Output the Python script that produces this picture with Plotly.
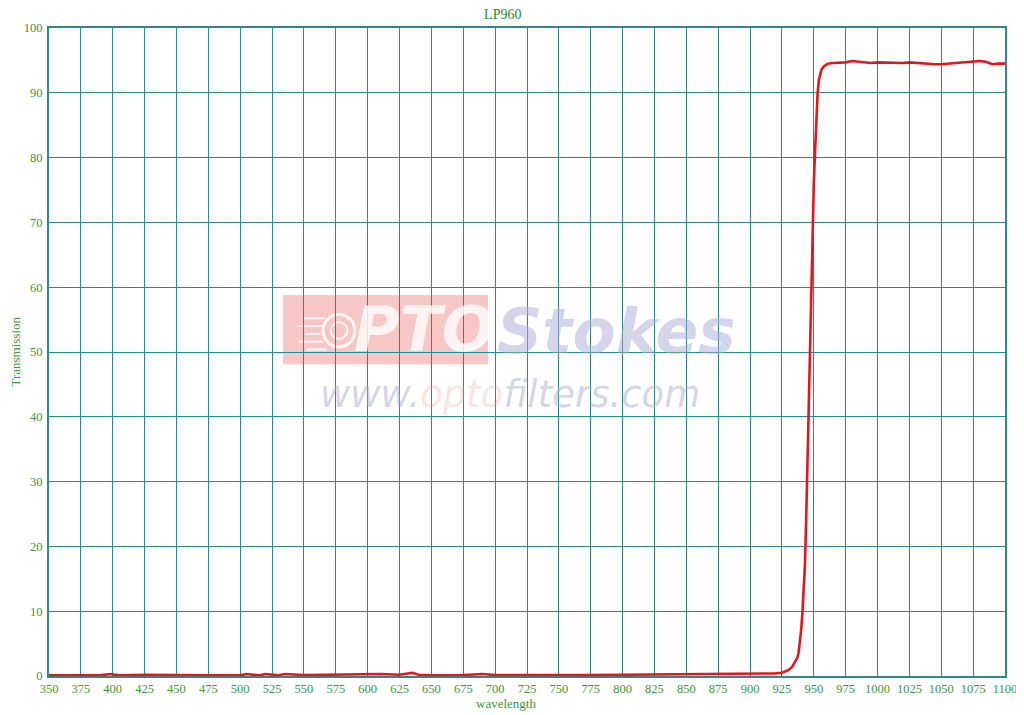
import plotly.graph_objects as go

title_text = "LP960"
x_label = "wavelength"
y_label = "Transmission"

wavelength = [350, 375, 390, 398, 405, 425, 450, 475, 500, 505, 515, 520, 530, 535,
              550, 575, 600, 610, 625, 635, 640, 650, 675, 690, 700, 725, 750, 775,
              800, 825, 850, 875, 900, 915, 920, 925, 930, 933, 935, 937, 938, 939,
              940, 941, 942, 943, 944, 945, 946, 947, 948, 949, 950, 951, 952, 953,
              954, 955, 956, 958, 961, 965, 970, 975, 980, 985, 990, 995, 1000, 1010,
              1020, 1025, 1030, 1040, 1045, 1050, 1055, 1060, 1065, 1070, 1075, 1080,
              1085, 1090, 1095, 1100]
transmission = [0.1, 0.1, 0.1, 0.3, 0.1, 0.2, 0.1, 0.1, 0.1, 0.3, 0.1, 0.3, 0.1, 0.3,
                0.15, 0.2, 0.2, 0.3, 0.2, 0.5, 0.2, 0.1, 0.15, 0.3, 0.15, 0.1, 0.15, 0.15,
                0.2, 0.2, 0.3, 0.3, 0.3, 0.4, 0.4, 0.5, 0.9, 1.4, 2.0, 2.8, 3.5, 5.0,
                7.0, 9.5, 13.0, 17.0, 24.0, 33.0, 43.0, 53.0, 62.0, 70.0, 76.0, 81.0, 86.0, 90.0,
                92.0, 93.0, 93.6, 94.1, 94.5, 94.6, 94.6, 94.7, 94.9, 94.8, 94.7, 94.6, 94.7, 94.6,
                94.6, 94.7, 94.6, 94.5, 94.4, 94.4, 94.5, 94.5, 94.7, 94.8, 94.8, 94.9,
                94.8, 94.4, 94.5, 94.5]

x_ticks = list(range(350, 1101, 25))
y_ticks = list(range(0, 101, 10))

grid_col = "#2A8A8A"
text_col = "#3E963E"
serif = "Liberation Serif, Times New Roman, serif"

fig = go.Figure()
fig.add_trace(go.Scatter(x=wavelength, y=transmission, mode="lines",
                         line=dict(color="#E8141A", width=2.6), hoverinfo="skip",
                         showlegend=False))

# watermark (drawn below grid)
fig.add_shape(type="rect", xref="x", yref="y", x0=533.6, x1=694.4, y0=48.1, y1=58.8,
              fillcolor="rgba(246,168,168,0.65)", line=dict(width=0), layer="below")
fig.add_shape(type="circle", xref="x", yref="y", x0=565.0, x1=590.0, y0=50.8, y1=55.8,
              fillcolor="rgba(0,0,0,0)", line=dict(color="rgba(255,255,255,0.85)", width=3),
              layer="below")
fig.add_shape(type="circle", xref="x", yref="y", x0=571.0, x1=584.0, y0=52.0, y1=54.6,
              fillcolor="rgba(0,0,0,0)", line=dict(color="rgba(255,255,255,0.85)", width=2),
              layer="below")
for yy, xa, xb in [(55.2, 549, 566), (54.0, 545, 564), (52.8, 551, 563), (51.6, 546, 565), (50.4, 552, 568)]:
    fig.add_shape(type="line", xref="x", yref="y", x0=xa, x1=xb, y0=yy, y1=yy,
                  line=dict(color="rgba(255,255,255,0.85)", width=2), layer="below")

fig.add_annotation(xref="x", yref="y", x=644, y=53.5, text="<b><i>PTO</i></b>", showarrow=False,
                   font=dict(family="DejaVu Sans", size=62, color="rgba(255,255,255,0.8)"))
fig.add_annotation(xref="x", yref="y", x=795, y=53.2, text="<b><i>Stokes</i></b>", showarrow=False,
                   font=dict(family="DejaVu Sans", size=63, color="rgba(170,170,215,0.5)"))
fig.add_annotation(xref="x", yref="y", x=712, y=43.4,
                   text="<i>www.<span style='color:rgba(240,150,150,0.55)'>opto</span>filters.com</i>",
                   showarrow=False,
                   font=dict(family="DejaVu Sans", size=37, color="rgba(170,170,215,0.5)"))

fig.add_annotation(xref="paper", yref="paper", x=-0.036, y=0.5, text=y_label, textangle=-90,
                   showarrow=False, font=dict(family=serif, size=13, color=text_col),
                   xanchor="center", yanchor="middle")
fig.add_annotation(xref="paper", yref="paper", x=0.478, y=-0.042, text=x_label,
                   showarrow=False, font=dict(family=serif, size=13, color=text_col),
                   xanchor="center", yanchor="middle")

# page body has an 8px margin: shrink figure so the plot lands at the reference position
fig.update_layout(
    width=1016, height=707,
    margin=dict(l=41, r=19, t=20, b=39),
    paper_bgcolor="white", plot_bgcolor="white",
    title=dict(text=title_text, x=0.487, xanchor="center", y=0.9915, yanchor="middle",
               font=dict(family=serif, size=14, color="#2A8A2A")),
    xaxis=dict(range=[350, 1100], tickvals=x_ticks, ticktext=[str(v) for v in x_ticks],
               showgrid=True, gridcolor=grid_col, gridwidth=1.3,
               showline=True, linecolor=grid_col, linewidth=2, mirror=True,
               ticks="", zeroline=False, automargin=False,
               tickfont=dict(family=serif, size=12.5, color=text_col)),
    yaxis=dict(range=[0, 100], tickvals=y_ticks, ticktext=[str(v) for v in y_ticks],
               showgrid=True, gridcolor=grid_col, gridwidth=1.3,
               showline=True, linecolor=grid_col, linewidth=2, mirror=True,
               ticks="", zeroline=False, ticklabelstandoff=2, automargin=False,
               tickfont=dict(family=serif, size=12.5, color=text_col)),
)

fig.write_html("out.html")
